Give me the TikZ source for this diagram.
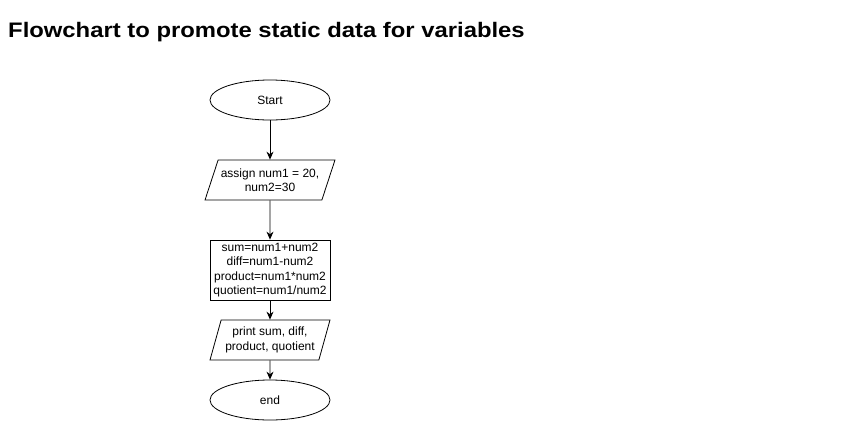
\documentclass[tikz,border=0pt]{standalone}
\usepackage{fontspec}
\setmainfont{Liberation Sans}
\usetikzlibrary{shapes.geometric,arrows.meta}

\tikzset{
    flow/.style={draw, line width=0.8pt, font=\fontsize{12}{14.5}\selectfont, align=center, inner sep=1pt},
    terminal/.style={flow, ellipse, minimum width=120pt, minimum height=40pt},
    io/.style={flow, trapezium, trapezium stretches=true, trapezium left angle=#1, trapezium right angle=180-#1, minimum height=40pt},
    process/.style={flow, rectangle, minimum width=120pt, minimum height=60pt},
    link/.style={line width=0.8pt, -{Stealth[length=8pt,width=7pt]}}
}

\begin{document}
\begin{tikzpicture}[x=1pt, y=-1pt]
        \useasboundingbox (0, 0) rectangle (841, 421);
        \node[anchor=base west, inner sep=0pt, font=\fontsize{21}{25}\selectfont\bfseries] (title) at (8, 37) {\scalebox{1.135}[1]{Flowchart to promote static data for variables}};
        \node[terminal] (start) at (270, 100) {Start};
        \node[io=63.4, minimum width=130pt] (assign) at (270, 180) {assign num1 = 20,\\num2=30};
        \node[process] (calc) at (270, 270) {sum=num1+num2\\diff=num1-num2\\product=num1*num2\\quotient=num1/num2};
        \node[io=69.4, minimum width=120pt] (print) at (270, 340) {print sum, diff,\\product, quotient};
        \node[terminal] (end) at (270, 400) {end};
        \path [link] (start) edge node {} (assign);
        \path [link] (assign) edge node {} (calc);
        \path [link] (calc) edge node {} (print);
        \path [link] (print) edge node {} (end);
    \end{tikzpicture}
\end{document}
